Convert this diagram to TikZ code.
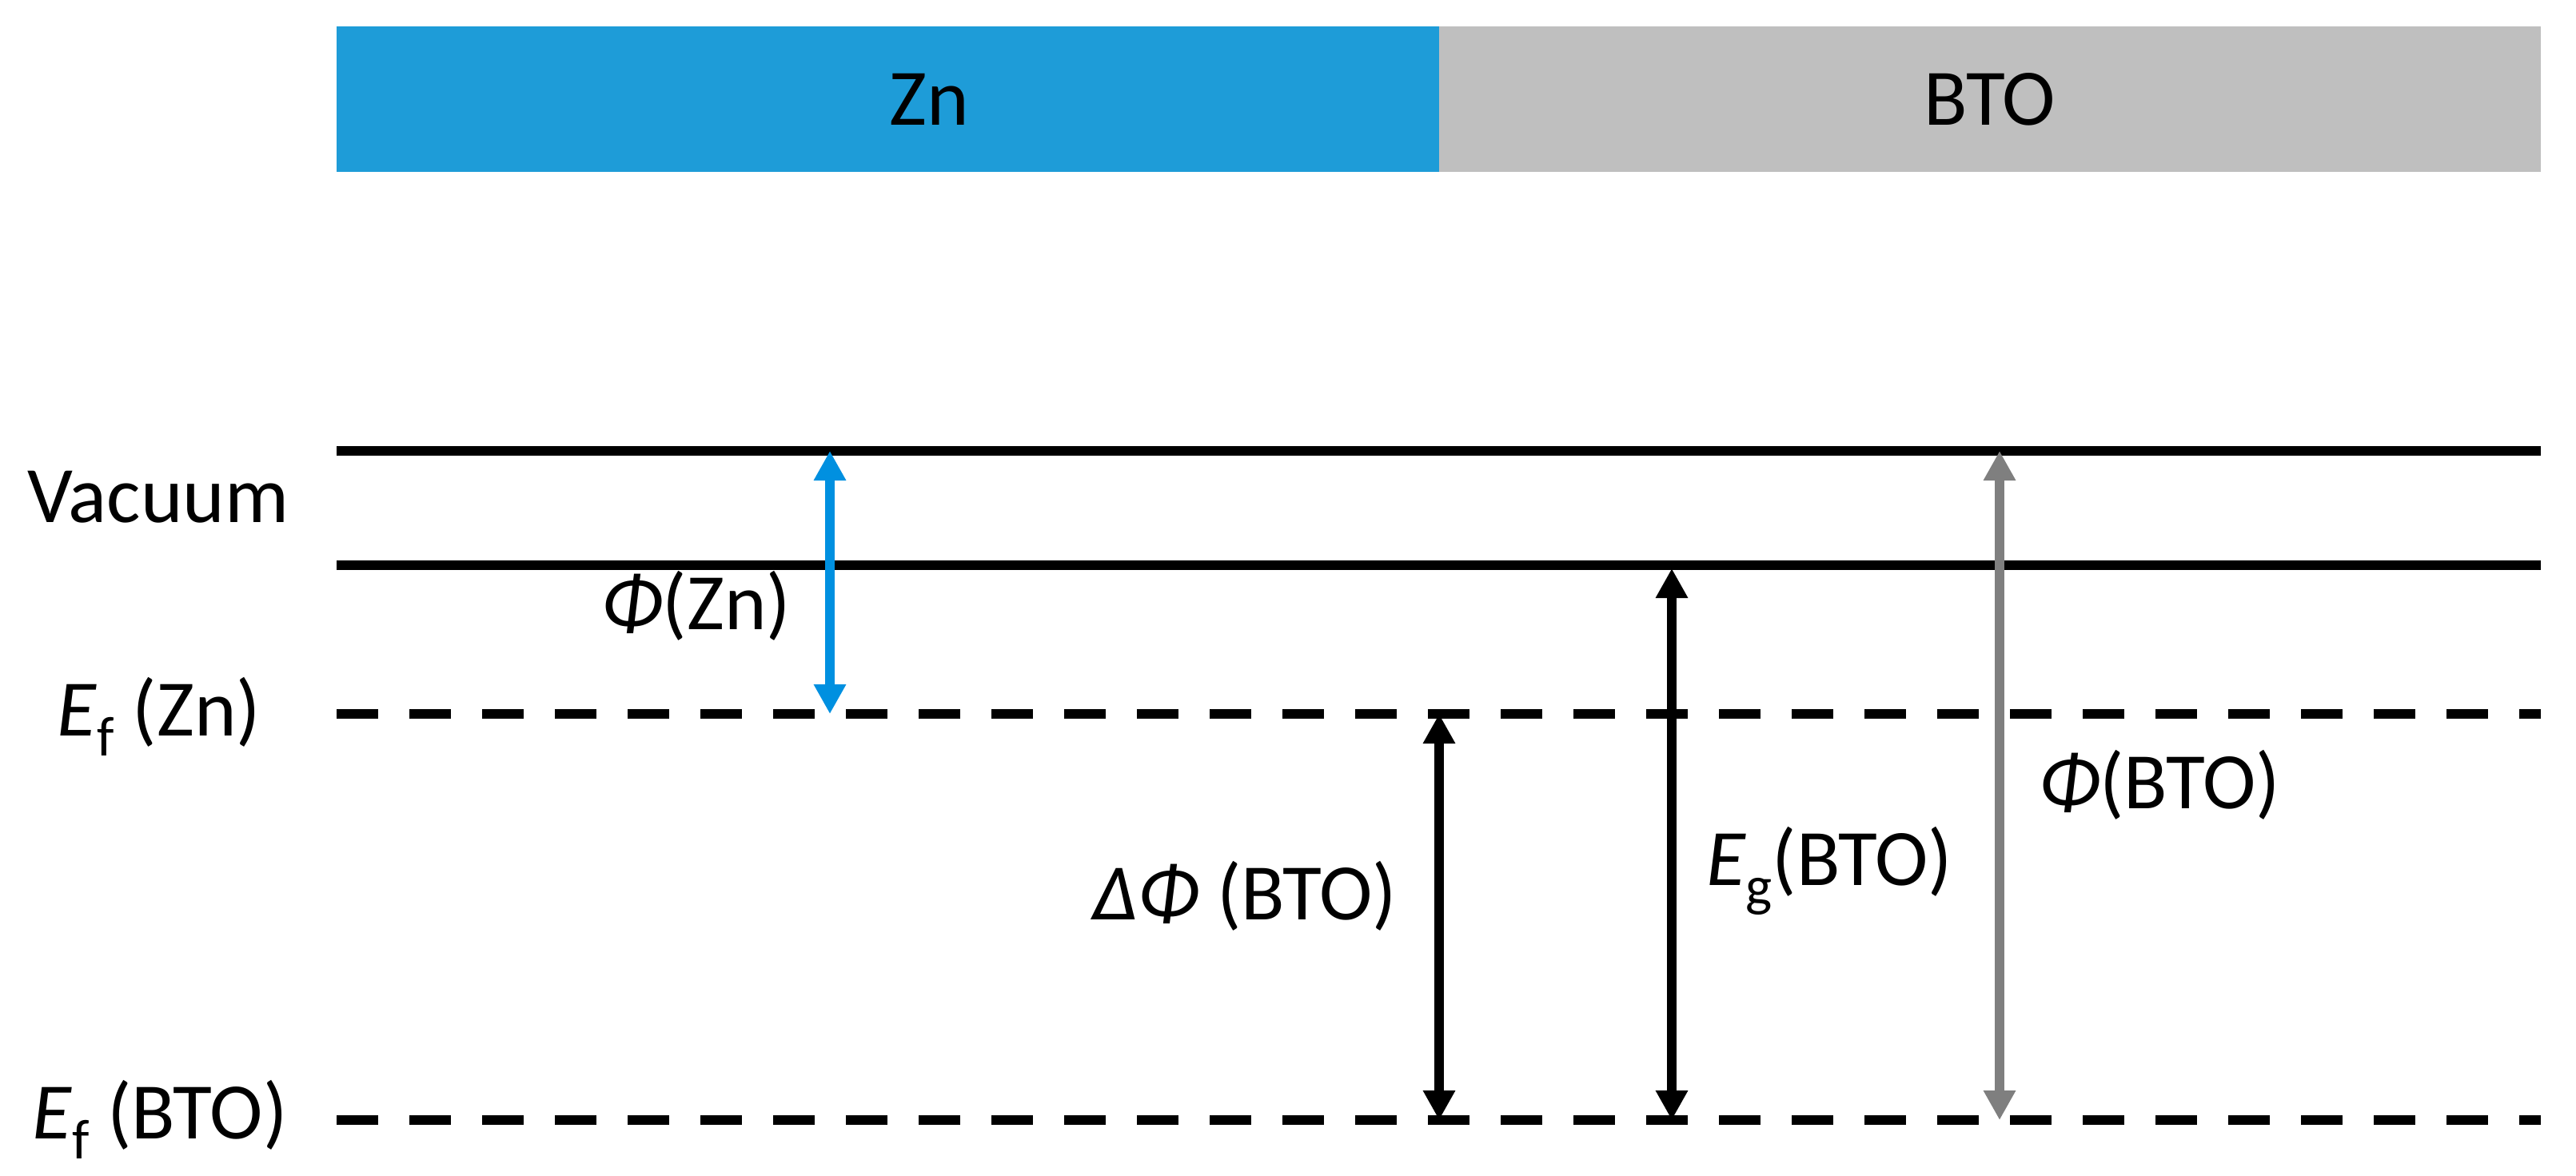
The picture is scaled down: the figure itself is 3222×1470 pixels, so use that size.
\documentclass[tikz,border=0pt]{standalone}
\usepackage{fontspec}
\setmainfont{Carlito}
\usetikzlibrary{arrows.meta}

\definecolor{znblue}{RGB}{30,156,216}
\definecolor{btogray}{RGB}{191,191,191}
\definecolor{arrowblue}{RGB}{0,144,224}
\definecolor{arrowgray}{RGB}{127,127,127}
\newcommand{\lvsub}[1]{\raisebox{-0.25em}{\fontsize{20}{20}\selectfont #1}}

\begin{document}
\begin{tikzpicture}[x=0.1mm,y=-0.1mm]
\tikzset{
  lvtext/.style={font=\fontsize{28.5}{34}\selectfont,inner sep=0pt,anchor=base},
  bartext/.style={font=\fontsize{28.5}{34}\selectfont,inner sep=0pt},
  vaclevel/.style={line width=1.25mm},
  fermilevel/.style={line width=1.25mm,dash pattern=on 5.2mm off 3.9mm},
  gaparrow/.style={line width=1.2mm,{Triangle[length=3.7mm,width=3.8mm]}-{Triangle[length=3.7mm,width=3.8mm]}}
}
\useasboundingbox (0,0) rectangle (3222,1470);
% material bars
\fill[znblue] (421,33) rectangle (1800,215);
\fill[btogray] (1800,33) rectangle (3178,215);
\node[bartext] (t_zn) at (1162,124) {Zn};
\node[bartext] (t_bto) at (2489,124) {BTO};
% levels
\coordinate (vac1_l) at (421,564);
\coordinate (vac1_r) at (3178,564);
\coordinate (vac2_l) at (421,707);
\coordinate (vac2_r) at (3178,707);
\coordinate (efzn_l) at (421,893);
\coordinate (efzn_r) at (3178,893);
\coordinate (efbto_l) at (421,1401);
\coordinate (efbto_r) at (3178,1401);
\draw[vaclevel] (vac1_l) -- (vac1_r);
\draw[vaclevel] (vac2_l) -- (vac2_r);
\draw[fermilevel] (efzn_l) -- (efzn_r);
\draw[fermilevel] (efbto_l) -- (efbto_r);
% level names
\node[lvtext] (t_vac) at (198,653) {Vacuum};
\node[lvtext] (t_efzn) at (199,920) {\textit{E}\lvsub{f} (Zn)};
\node[lvtext] (t_efbto) at (200,1424) {\textit{E}\lvsub{f} (BTO)};
% gaps
\coordinate (a_zn_t) at (1038,564);
\coordinate (a_zn_b) at (1038,893);
\coordinate (a_dphi_t) at (1800,893);
\coordinate (a_dphi_b) at (1800,1401);
\coordinate (a_eg_t) at (2091,711);
\coordinate (a_eg_b) at (2091,1401);
\coordinate (a_bto_t) at (2501,564);
\coordinate (a_bto_b) at (2501,1401);
\draw[gaparrow,arrowblue] (a_zn_t) -- (a_zn_b);
\draw[gaparrow] (a_dphi_t) -- (a_dphi_b);
\draw[gaparrow] (a_eg_t) -- (a_eg_b);
\draw[gaparrow,arrowgray] (a_bto_t) -- (a_bto_b);
\node[lvtext] (t_phizn) at (871,787) {\textit{Φ}(Zn)};
\node[lvtext] (t_dphi) at (1557,1150) {\textit{ΔΦ} (BTO)};
\node[lvtext] (t_eg) at (2288,1107) {\textit{E}\lvsub{g}(BTO)};
\node[lvtext] (t_phibto) at (2701,1011) {\textit{Φ}(BTO)};
\end{tikzpicture}
\end{document}
